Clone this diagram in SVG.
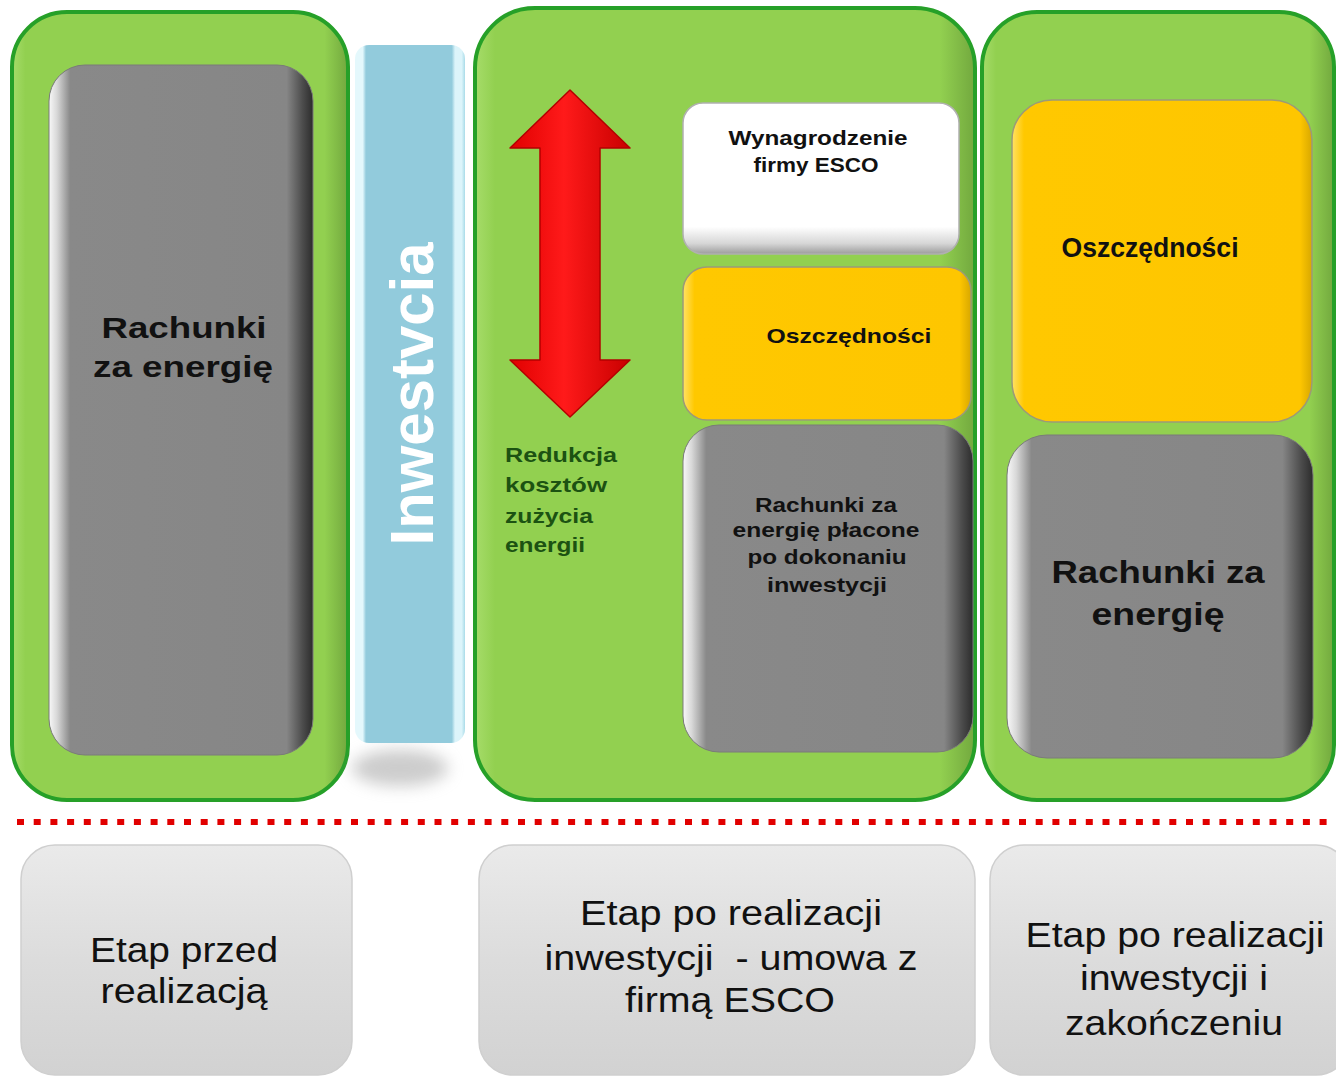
<svg xmlns="http://www.w3.org/2000/svg" width="1336" height="1081" viewBox="0 0 1336 1081">
<style>
.panel{fill:url(#greenG);stroke:#26a028;stroke-width:4}
.gray{fill:url(#grayG);stroke:#7a7a7a;stroke-width:1}
.yellow{fill:url(#yelG);stroke:#9c9a78;stroke-width:1.5}
.stage{fill:url(#stageG);stroke:#cfcfcf;stroke-width:1.5}
.t{font-family:"Liberation Sans",Arial,sans-serif;text-anchor:middle}
.b{font-weight:bold;fill:#111}
.r{font-weight:normal;fill:#111}
.g{font-family:"Liberation Sans",Arial,sans-serif;fill:#1c5212;font-size:21px;font-weight:bold}
</style>
<defs>
<linearGradient id="greenG" x1="0" y1="0" x2="1" y2="0">
<stop offset="0" stop-color="#a6dc6a"/><stop offset="0.04" stop-color="#92d050"/><stop offset="0.93" stop-color="#92d050"/><stop offset="1" stop-color="#72a83e"/>
</linearGradient>
<linearGradient id="grayG" x1="0" y1="0" x2="1" y2="0">
<stop offset="0" stop-color="#f8f8f8"/><stop offset="0.03" stop-color="#d8d8d8"/><stop offset="0.08" stop-color="#898989"/><stop offset="0.9" stop-color="#868686"/><stop offset="0.96" stop-color="#4d4d4d"/><stop offset="1" stop-color="#2c2c2c"/>
</linearGradient>
<linearGradient id="yelG" x1="0" y1="0" x2="1" y2="0">
<stop offset="0" stop-color="#ffe266"/><stop offset="0.04" stop-color="#ffc800"/><stop offset="0.96" stop-color="#fec600"/><stop offset="1" stop-color="#d8a800"/>
</linearGradient>
<linearGradient id="whiteG" x1="0" y1="0" x2="0" y2="1">
<stop offset="0" stop-color="#ffffff"/><stop offset="0.82" stop-color="#ffffff"/><stop offset="0.93" stop-color="#d6d6d6"/><stop offset="1" stop-color="#9c9c9c"/>
</linearGradient>
<linearGradient id="blueG" x1="0" y1="0" x2="1" y2="0">
<stop offset="0" stop-color="#e4f8fc"/><stop offset="0.07" stop-color="#e4f8fc"/><stop offset="0.1" stop-color="#92cbdc"/><stop offset="0.88" stop-color="#92cbdc"/><stop offset="0.91" stop-color="#dcf4fa"/><stop offset="0.97" stop-color="#dcf4fa"/><stop offset="1" stop-color="#a9dbe8"/>
</linearGradient>
<linearGradient id="stageG" x1="0" y1="0" x2="0" y2="1">
<stop offset="0" stop-color="#eaeaea"/><stop offset="0.5" stop-color="#dcdcdc"/><stop offset="1" stop-color="#d2d2d2"/>
</linearGradient>
<linearGradient id="redG" x1="0" y1="0" x2="1" y2="0">
<stop offset="0" stop-color="#e00000"/><stop offset="0.45" stop-color="#ff1a1a"/><stop offset="1" stop-color="#c80000"/>
</linearGradient>
<filter id="blur" x="-50%" y="-50%" width="200%" height="200%"><feGaussianBlur stdDeviation="8"/></filter>
</defs>

<rect width="1336" height="1081" fill="#ffffff"/>

<g id="panel-before">
<rect class="panel" x="12" y="12" width="336" height="788" rx="55"/>
<rect class="gray" x="49" y="65" width="264" height="690" rx="36"/>
<text class="t b" x="184" y="338" font-size="30" textLength="165" lengthAdjust="spacingAndGlyphs">Rachunki</text>
<text class="t b" x="183" y="377" font-size="30" textLength="180" lengthAdjust="spacingAndGlyphs">za energię</text>
</g>

<g id="investment">
<ellipse cx="400" cy="768" rx="48" ry="18" fill="#9a9a9a" opacity="0.5" filter="url(#blur)"/>
<rect x="355" y="45" width="110" height="698" rx="14" fill="url(#blueG)"/>
<text class="t" x="433" y="394" font-size="62" font-weight="bold" fill="#ffffff" textLength="303" lengthAdjust="spacingAndGlyphs" transform="rotate(-90 433 394)">Inwestvcia</text>
</g>

<g id="panel-esco">
<rect class="panel" x="475" y="8" width="500" height="792" rx="60"/>
<g id="arrow">
<path d="M570,90 L630,148 L600,148 L600,360 L630,360 L570,417 L510,360 L540,360 L540,148 L510,148 Z" fill="url(#redG)" stroke="#b40000" stroke-width="1.5" stroke-linejoin="round"/>
</g>
<text class="g" x="505" y="462" textLength="112" lengthAdjust="spacingAndGlyphs">Redukcja</text>
<text class="g" x="505" y="492" textLength="102" lengthAdjust="spacingAndGlyphs">kosztów</text>
<text class="g" x="505" y="523" textLength="88" lengthAdjust="spacingAndGlyphs">zużycia</text>
<text class="g" x="505" y="552" textLength="80" lengthAdjust="spacingAndGlyphs">energii</text>
<g id="fee">
<rect x="683" y="103" width="276" height="151" rx="20" fill="url(#whiteG)" stroke="#b0b0b0" stroke-width="1.5"/>
<text class="t b" x="818" y="145" font-size="20" textLength="179" lengthAdjust="spacingAndGlyphs">Wynagrodzenie</text>
<text class="t b" x="816" y="172" font-size="20" textLength="125" lengthAdjust="spacingAndGlyphs">firmy ESCO</text>
</g>
<g id="savings-mid">
<rect class="yellow" x="683" y="267" width="288" height="153" rx="24"/>
<text class="t b" x="849" y="343" font-size="21" fill="#2b1d00" textLength="165" lengthAdjust="spacingAndGlyphs">Oszczędności</text>
</g>
<g id="bills-mid">
<rect class="gray" x="683" y="425" width="290" height="327" rx="36"/>
<text class="t b" x="826" y="512" font-size="20" textLength="142" lengthAdjust="spacingAndGlyphs">Rachunki za</text>
<text class="t b" x="826" y="537" font-size="20" textLength="187" lengthAdjust="spacingAndGlyphs">energię płacone</text>
<text class="t b" x="827" y="564" font-size="20" textLength="159" lengthAdjust="spacingAndGlyphs">po dokonaniu</text>
<text class="t b" x="827" y="592" font-size="20" textLength="120" lengthAdjust="spacingAndGlyphs">inwestycji</text>
</g>
</g>

<g id="panel-after">
<rect class="panel" x="982" y="12" width="352" height="788" rx="55"/>
<g id="savings-right">
<rect class="yellow" x="1012" y="100" width="300" height="322" rx="40"/>
<text class="t b" x="1150" y="257" font-size="27" fill="#2b1d00" textLength="177" lengthAdjust="spacingAndGlyphs">Oszczędności</text>
</g>
<g id="bills-right">
<rect class="gray" x="1007" y="435" width="306" height="323" rx="40"/>
<text class="t b" x="1158" y="583" font-size="32" textLength="213" lengthAdjust="spacingAndGlyphs">Rachunki za</text>
<text class="t b" x="1158" y="625" font-size="32" textLength="133" lengthAdjust="spacingAndGlyphs">energię</text>
</g>
</g>

<g id="connectors">
<line x1="17" y1="822" x2="1336" y2="822" stroke="#e10000" stroke-width="6" stroke-dasharray="7 9.7"/>
</g>

<g id="stage-1">
<rect class="stage" x="21" y="845" width="331" height="230" rx="34"/>
<text class="t r" x="184" y="962" font-size="35" textLength="188" lengthAdjust="spacingAndGlyphs">Etap przed</text>
<text class="t r" x="184" y="1003" font-size="35" textLength="167" lengthAdjust="spacingAndGlyphs">realizacją</text>
</g>
<g id="stage-2">
<rect class="stage" x="479" y="845" width="496" height="230" rx="34"/>
<text class="t r" x="731" y="925" font-size="35" textLength="302" lengthAdjust="spacingAndGlyphs">Etap po realizacji</text>
<text class="t r" x="731" y="970" font-size="35" textLength="373" lengthAdjust="spacingAndGlyphs" style="white-space:pre">inwestycji  - umowa z</text>
<text class="t r" x="730" y="1012" font-size="35" textLength="210" lengthAdjust="spacingAndGlyphs">firmą ESCO</text>
</g>
<g id="stage-3">
<rect class="stage" x="990" y="845" width="360" height="230" rx="34"/>
<text class="t r" x="1175" y="947" font-size="35" textLength="299" lengthAdjust="spacingAndGlyphs">Etap po realizacji</text>
<text class="t r" x="1174" y="990" font-size="35" textLength="188" lengthAdjust="spacingAndGlyphs">inwestycji i</text>
<text class="t r" x="1174" y="1035" font-size="35" textLength="218" lengthAdjust="spacingAndGlyphs">zakończeniu</text>
</g>
</svg>
